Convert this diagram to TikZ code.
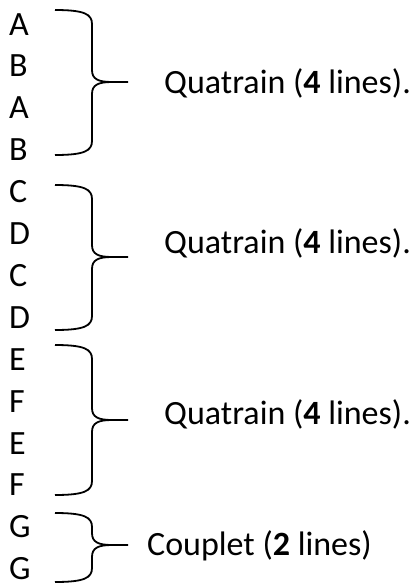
\documentclass[tikz,border=0pt]{standalone}
\usepackage{fontspec}
\setmainfont{Carlito}
\begin{document}
\begin{tikzpicture}[x=1pt,y=-1pt,
  letter/.style={anchor=base west,inner sep=0pt,font=\fontsize{34}{34}\selectfont},
  label/.style={anchor=base west,inner sep=0pt,font=\fontsize{34}{34}\selectfont},
  bracepath/.style={draw=black,line width=1.8pt}]
\useasboundingbox (0,0) rectangle (417,587);
% rhyme letters
\foreach \t [count=\i from 0] in {A,B,A,B,C,D,C,D,E,F,E,F,G,G}{
  \node[letter] (l\i) at (9,{35+\i*41.9}) {\t};
}
% braces
\foreach \top/\bot/\mid [count=\k] in {10/155/82, 185/330/257, 345/495/420, 513/582/545}{
  \coordinate (bt\k) at (55,\top);
  \coordinate (bb\k) at (55,\bot);
  \coordinate (tip\k) at (128,\mid);
  \path[bracepath] (bt\k) .. controls (84,\top) and (92,\top+4) .. (92,\top+14)
     -- (92,\mid-12) .. controls (92,\mid-3) and (98,\mid) .. (112,\mid) -- (tip\k)
     (112,\mid) .. controls (98,\mid) and (92,\mid+3) .. (92,\mid+12)
     -- (92,\bot-14) .. controls (92,\bot-4) and (84,\bot) .. (bb\k);
}
\node[label] (q1) at (164,93) {Quatrain (\textbf{4} lines).};
\node[label] (q2) at (164,253) {Quatrain (\textbf{4} lines).};
\node[label] (q3) at (164,424) {Quatrain (\textbf{4} lines).};
\node[label] (c1) at (147,555) {Couplet (\textbf{2} lines)};
\end{tikzpicture}
\end{document}
